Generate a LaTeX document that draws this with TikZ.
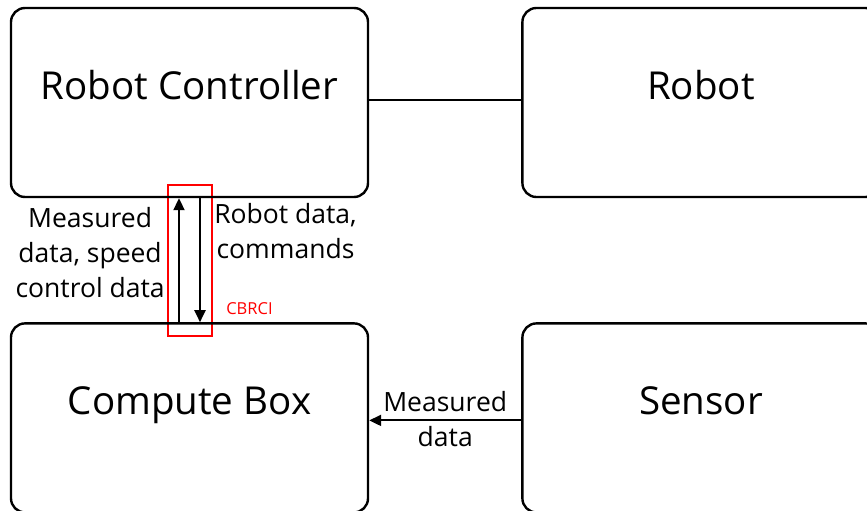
\documentclass[tikz,border=0pt]{standalone}
\usepackage{fontspec}
\setmainfont{Open Sans}
\usetikzlibrary{positioning,arrows.meta}
\tikzstyle{block} = [draw, line width=2.4pt, rounded corners=14pt, minimum width=357pt, minimum height=189pt, inner sep=0pt, font=\fontsize{38.5}{44}\selectfont, text depth=35pt]
\tikzstyle{flow} = [line width=2pt, -{Triangle[length=12pt,width=11pt]}]
\tikzstyle{note} = [font=\fontsize{26.5}{35}\selectfont, align=center, inner sep=0pt]
\tikzstyle{tag} = [font=\fontsize{16.5}{20}\selectfont, text=red, inner sep=0pt]

\begin{document}
\begin{tikzpicture}[x=1pt, y=1pt, node distance = 124pt and 152pt]
		% Frame
		\useasboundingbox (0,0) rectangle (867,-511);
		\clip (0,0) rectangle (867,-511);
		% Interface
		\node[draw=red, line width=2.2pt, minimum width=44pt, minimum height=151pt] (CBRCI) at (190,-260.5) {};
		% Nodes
		\node[block] (RC) at (189.5,-102.5) {Robot Controller};
		\node[block] (R)  [right=of RC] {Robot};
		\node[block] (CB) [below=of RC] {Compute Box};
		\node[block] (S)  [right=of CB] {Sensor};
		% Labels
		\node[note] (up)   [left=2pt of CBRCI.west, yshift=8pt] {Measured\\data, speed\\control data};
		\node[note] (down) [right=1pt of CBRCI.east, yshift=29pt] {Robot data,\\commands};
		\node[tag]  (name) [anchor=base west] at ([xshift=13pt,yshift=23pt]CBRCI.south east) {CBRCI};
		%Arrows
		\draw[line width=2.4pt] ([yshift=2.5pt]RC.east) -- ([yshift=2.5pt]R.west);
		\draw[flow] ([xshift=-10.5pt]CB.north) -- ([xshift=-10.5pt]RC.south);
		\draw[flow] ([xshift=10.5pt]RC.south) -- ([xshift=10.5pt]CB.north);
		\draw[flow] ([yshift=-2.5pt]S.west) -- ([yshift=-2.5pt]CB.east)
			node[note, midway, above=8pt] (m1) {Measured}
			node[note, midway, below=5pt] (m2) {data};
	\end{tikzpicture}
\end{document}
